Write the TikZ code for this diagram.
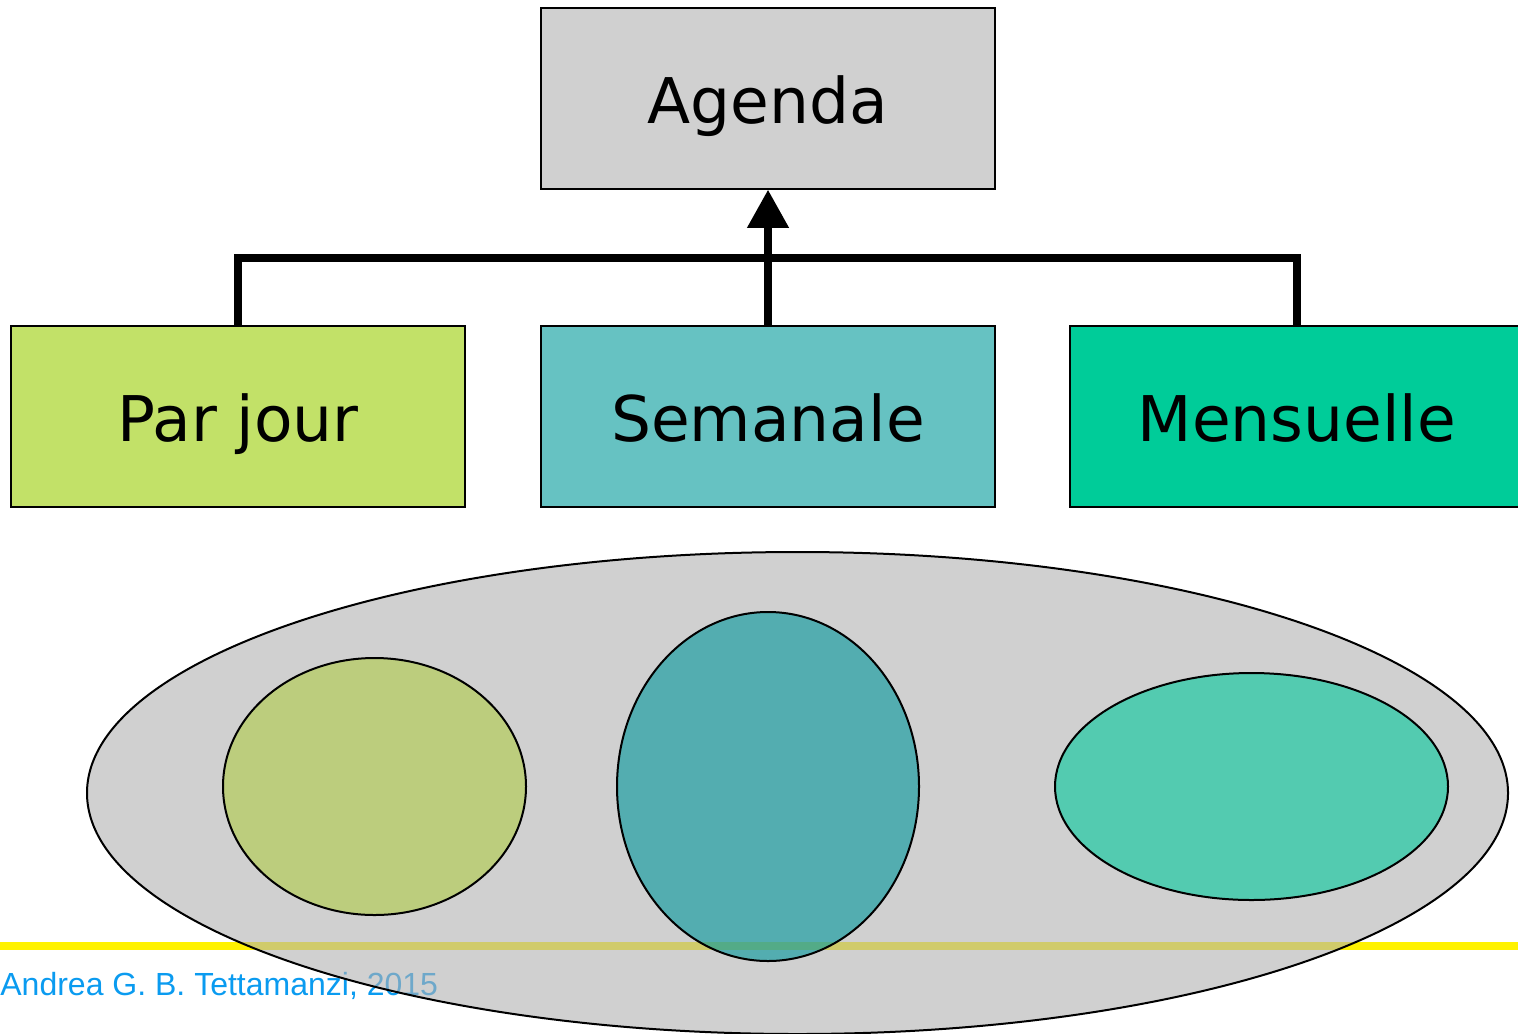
\documentclass[tikz,border=0pt]{standalone}
\usepackage{fontspec}
\setmainfont{DejaVu Sans}
\newfontfamily\arialfont{Liberation Sans}
\usetikzlibrary{arrows.meta}
\definecolor{agendagray}{HTML}{D0D0D0}
\definecolor{pjgreen}{HTML}{C2E168}
\definecolor{semteal}{HTML}{66C2C2}
\definecolor{mengreen}{HTML}{00CC99}
\definecolor{ellgray}{HTML}{B1B1B1}
\definecolor{cone}{HTML}{AFCB46}
\definecolor{ctwo}{HTML}{00969B}
\definecolor{cthree}{HTML}{00C99B}
\definecolor{authorblue}{HTML}{0A9BF0}
\begin{document}
\begin{tikzpicture}[x=0.5pt,y=-0.5pt,
  box/.style={draw=black, line width=0.75pt, minimum width=227pt, minimum height=90.5pt,
    inner sep=0pt, font=\fontsize{31.5}{36}\selectfont, text height=25pt, text depth=0pt},
  conn/.style={line width=3.6pt, line join=miter},
  blob/.style={draw=black, line width=1pt, fill opacity=0.6},
  yellowline/.style={draw=yellow, line width=4.3pt}]
\clip (0,0) rectangle (1518,1033);
\fill[white] (0,0) rectangle (1518,1033);
% boxes
\node[box, fill=agendagray] (agenda) at (768,98.5) {Agenda};
\node[box, fill=pjgreen] (pj) at (238,416.5) {Par jour};
\node[box, fill=semteal] (sem) at (768,416.5) {Semanale};
\node[box, fill=mengreen] (men) at (1297,416.5) {Mensuelle};
% connectors
\coordinate (j) at (768,258);
\draw[conn] (pj.north) |- (j);
\draw[conn] (men.north) |- (j);
\draw[conn, -{Triangle[length=19pt,width=20pt]}] (sem.north) -- (agenda.south);
% footer
\draw[yellowline] (0,946) -- (1518,946);
\node[anchor=base west, inner sep=0pt, font=\arialfont\fontsize{16}{19}\selectfont, text=authorblue] (author) at (0,995) {Andrea G. B. Tettamanzi, 2015};
% ellipses
\path[blob, fill=ellgray] (797.5,793) ellipse [x radius=710.5, y radius=241];
\path[blob, fill=cone] (374.5,786.5) ellipse [x radius=151.5, y radius=128.5];
\path[blob, fill=ctwo] (768,786.5) ellipse [x radius=151, y radius=174.5];
\path[blob, fill=cthree] (1251.5,786.5) ellipse [x radius=196.5, y radius=113.5];
\end{tikzpicture}
\end{document}
